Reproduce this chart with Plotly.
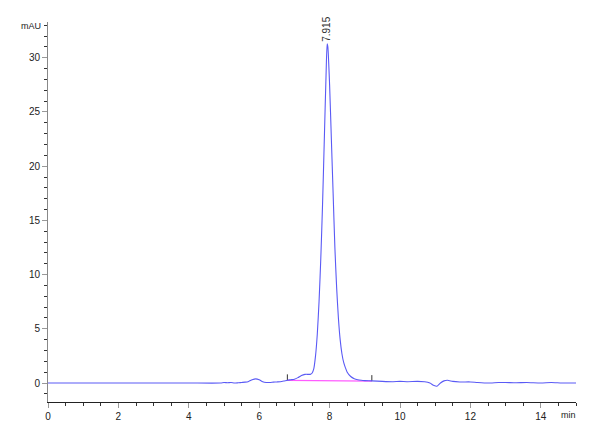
import plotly.graph_objects as go

# chromatogram trace (time in min, signal in mAU)
time_min = [0.0, 1.0, 2.0, 3.0, 4.0, 4.9, 5.0, 5.1, 5.2, 5.3, 5.4, 5.5, 5.6, 5.7, 5.8, 5.9,
            6.0, 6.1, 6.2, 6.3, 6.4, 6.5, 6.6, 6.7, 6.8, 6.9, 7.0, 7.1, 7.2, 7.3, 7.4, 7.45,
            7.5, 7.55, 7.6, 7.65, 7.7, 7.75, 7.8, 7.85, 7.9, 7.93, 7.95, 8.0, 8.05, 8.1,
            8.15, 8.2, 8.25, 8.3, 8.35, 8.4, 8.45, 8.5, 8.6, 8.7, 8.8, 8.9, 9.0, 9.2, 9.5,
            9.8, 10.0, 10.2, 10.5, 10.7, 10.85, 10.95, 11.05, 11.15, 11.25, 11.35, 11.5,
            11.7, 12.0, 12.2, 12.5, 12.8, 13.0, 13.3, 13.6, 14.0, 14.3, 14.6, 15.0]
signal_mau = [0.0, 0.0, 0.0, 0.0, 0.0, 0.0, 0.05, 0.03, 0.05, 0.0, 0.02, 0.05, 0.08, 0.15, 0.3, 0.38,
              0.3, 0.12, 0.05, 0.05, 0.08, 0.1, 0.12, 0.18, 0.25, 0.3, 0.35, 0.5, 0.7, 0.8, 0.8, 0.8,
              0.9, 1.3, 2.5, 4.5, 7.5, 11.5, 16.5, 22.5, 28.5, 31.3, 31.0, 27.5, 22.5, 17.5,
              12.5, 8.8, 6.0, 4.0, 2.7, 1.9, 1.4, 1.0, 0.6, 0.4, 0.3, 0.25, 0.22, 0.2, 0.15,
              0.12, 0.15, 0.12, 0.15, 0.12, 0.0, -0.2, -0.3, 0.0, 0.2, 0.25, 0.15,
              0.1, 0.1, 0.05, 0.0, 0.05, 0.05, 0.02, 0.05, 0.0, 0.05, 0.0, 0.0]

# integration baseline
base_t = [6.8, 9.2]
base_v = [0.25, 0.18]

peak_rt = 7.915
peak_height = 31.3
peak_label = "7.915"

axis_font = dict(family="Liberation Sans Narrow, Arial Narrow, Arial", size=10, color="#222")

fig = go.Figure()

fig.add_trace(go.Scatter(x=base_t, y=base_v, mode="lines",
                         line=dict(color="#ff5cff", width=1.2), hoverinfo="skip"))
# little ticks at baseline start/end
fig.add_trace(go.Scatter(x=[base_t[0], base_t[0], None, base_t[1], base_t[1]],
                         y=[base_v[0], base_v[0] + 0.55, None, base_v[1], base_v[1] + 0.55],
                         mode="lines", line=dict(color="#333", width=1), hoverinfo="skip"))
fig.add_trace(go.Scatter(x=time_min, y=signal_mau, mode="lines",
                         line=dict(color="#5a5af5", width=1.1, shape="spline", smoothing=0.6)))

fig.add_annotation(x=peak_rt, y=peak_height, text=peak_label, showarrow=False,
                   textangle=-90, xanchor="center", yanchor="bottom", yshift=0,
                   font=dict(family="Liberation Sans Narrow, Arial", size=10, color="#333"))
fig.add_annotation(x=0, xref="paper", y=1, yref="paper", text="mAU", showarrow=False,
                   xanchor="right", yanchor="middle", xshift=-5, yshift=-4,
                   font=dict(family="Liberation Sans Narrow, Arial", size=9, color="#222"))
fig.add_annotation(x=1, xref="paper", y=0, yref="paper", text="min", showarrow=False,
                   xanchor="right", yanchor="top", xshift=2, yshift=-6,
                   font=dict(family="Liberation Sans Narrow, Arial", size=9, color="#222"))

# page has an 8px body margin, so margins are shrunk to land the axes where they belong
fig.update_layout(
    width=600, height=440,
    margin=dict(l=40, r=32, t=14, b=46),
    paper_bgcolor="white", plot_bgcolor="white",
    showlegend=False,
)
fig.update_xaxes(range=[0, 15.0], tickvals=[0, 2, 4, 6, 8, 10, 12, 14],
                 ticks="outside", ticklen=5, tickcolor="#999",
                 minor=dict(dtick=0.5, ticks="outside", ticklen=3, tickcolor="#333"),
                 showline=True, linecolor="#222", linewidth=1.2,
                 showgrid=False, zeroline=False, tickfont=axis_font)
fig.update_yaxes(range=[-1.75, 33.3], tickvals=[0, 5, 10, 15, 20, 25, 30],
                 ticks="outside", ticklen=5, tickcolor="#999",
                 minor=dict(dtick=1, ticks="outside", ticklen=3, tickcolor="#333"),
                 showline=True, linecolor="#888", linewidth=1,
                 showgrid=False, zeroline=False, tickfont=axis_font)

fig.write_html("out.html")
